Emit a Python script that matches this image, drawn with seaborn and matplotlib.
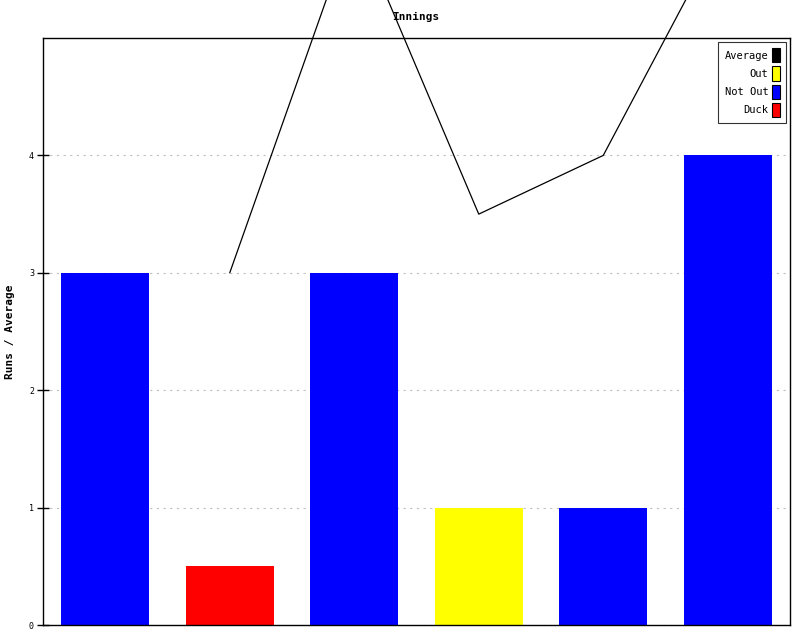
import numpy as np
import pandas as pd
import seaborn as sns
import matplotlib.pyplot as plt
from matplotlib.patches import Patch

# innings data
innings = [1, 2, 3, 4, 5, 6]
runs = [3, 0.5, 3, 1, 1, 4]          # duck drawn as a half-height bar
status = ["Not Out", "Duck", "Not Out", "Out", "Not Out", "Not Out"]
average = [np.nan, 3, 6, 3.5, 4, 6]

colours = {"Average": "black", "Out": "yellow", "Not Out": "blue", "Duck": "red"}

df = pd.DataFrame({"innings": innings, "runs": runs, "status": status,
                   "pos": range(len(innings)), "average": average})

sns.set_style("white")
plt.rcParams['font.family'] = ['DejaVu Sans Mono']
plt.rcParams['text.color'] = 'black'
plt.rcParams['axes.labelcolor'] = 'black'
plt.rcParams['ytick.color'] = 'black'

fig = plt.figure(figsize=(8, 6.4), dpi=100)
ax = fig.add_axes([0.05375, 0.0234, 0.93375, 0.9172])

sns.barplot(data=df, x="pos", y="runs", hue="status", palette=colours,
            dodge=False, width=0.71, saturation=1, legend=False, ax=ax,
            linewidth=0, edgecolor="none", zorder=2)

# average line, allowed to run out of the axes like the original
sns.lineplot(data=df.dropna(), x="pos", y="average", color="black", lw=0.9,
             clip_on=False, ax=ax, zorder=3)

ax.set_xlim(-0.5, 5.5)
ax.set_ylim(0, 5)
ax.set_yticks([0, 1, 2, 3, 4])
ax.set_xticks([])
ax.tick_params(axis="y", left=True, direction="inout", length=9, width=1,
               labelsize=6, pad=2, colors="black")
ax.yaxis.grid(True, linestyle=(0, (2, 4)), color="#c0c0c0", lw=0.8)
ax.set_axisbelow(True)
for s in ax.spines.values():
    s.set_color("black")
    s.set_linewidth(1)

ax.set_xlabel("")
ax.set_ylabel("Runs / Average", fontsize=8, fontweight="bold", labelpad=10)
fig.text(0.52, 0.973, "Innings", ha="center", va="center", fontsize=8, fontweight="bold")

handles = [Patch(facecolor=colours[k], edgecolor="black", lw=0.8) for k in colours]
leg = ax.legend(handles, list(colours.keys()), loc="upper right", markerfirst=False,
                fontsize=7.5, frameon=True, fancybox=False, edgecolor="black",
                handlelength=0.7, handleheight=1.7, handletextpad=0.4,
                labelspacing=0.4, borderpad=0.6, borderaxespad=0,
                bbox_to_anchor=(0.9946, 0.9932))
leg.get_frame().set_linewidth(0.8)
for t in leg.get_texts():
    t.set_ha("right")

fig.savefig("out.png", dpi=100)
